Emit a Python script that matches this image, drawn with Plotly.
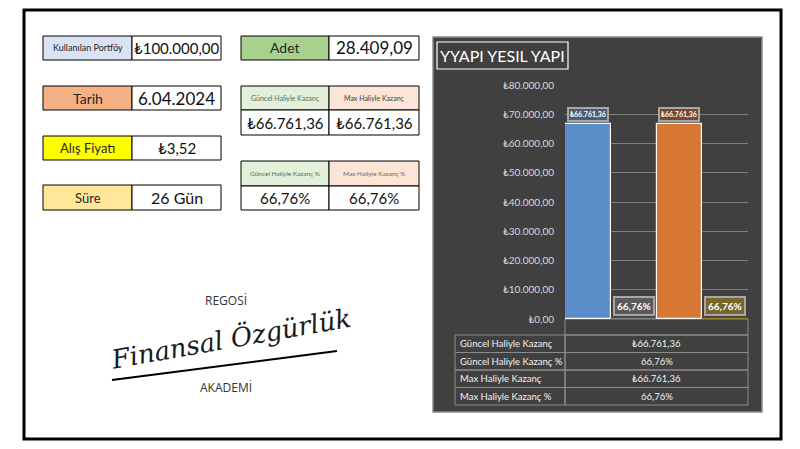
import plotly.graph_objects as go

# ----------------------------------------------------------
# Data
# ----------------------------------------------------------

info_labels = ["Kullanılan Portföy", "Tarih", "Alış Fiyatı", "Süre"]
portfolio = 100000.00
trade_date = "6.04.2024"
buy_price = 3.52
days = 26
lot_count = 28409.09

series_names = [
    "Güncel Haliyle Kazanç",
    "Güncel Haliyle Kazanç %",
    "Max Haliyle Kazanç",
    "Max Haliyle Kazanç %",
]
series_values = [66761.36, 0.6676, 66761.36, 0.6676]
series_is_pct = [False, True, False, True]

chart_title = "YYAPI YESIL YAPI"
y_ticks = [0, 10000, 20000, 30000, 40000, 50000, 60000, 70000, 80000]


def tr_num(v, dec=2):
    s = f"{v:,.{dec}f}"
    return s.replace(",", "#").replace(".", ",").replace("#", ".")


def fmt(v, pct):
    return tr_num(v * 100) + "%" if pct else "₺" + tr_num(v)


W, H = 800, 449
OFF = 8  # page body margin of the html page


def px(x):
    return (x - OFF) / W


def py(y):
    return 1 - (y - OFF) / H


FONT = "Lato, Liberation Sans, sans-serif"

shapes = []
annotations = []


def text(x, y, s, size, color="#262626", family=FONT, xanchor="center", **kw):
    annotations.append(dict(xref="paper", yref="paper", x=px(x), y=py(y),
                            xanchor=xanchor, yanchor="middle",
                            text=s, showarrow=False,
                            font=dict(family=family, size=size, color=color), **kw))


def rect(x0, y0, x1, y1, fill=None, line="black", width=1, layer="below"):
    shapes.append(dict(type="rect", xref="paper", yref="paper",
                       x0=px(x0), x1=px(x1), y0=py(y1), y1=py(y0),
                       fillcolor=fill, line=dict(color=line, width=width),
                       layer=layer))


def cell(x0, y0, x1, y1, fill, s, size, color="#262626"):
    rect(x0, y0, x1, y1, fill)
    text((x0 + x1) / 2, (y0 + y1) / 2, s, size, color)


# outer frame
rect(24, 10, 781, 439, width=3)

# left info cells
left_fills = ["#DAE3F3", "#F4B183", "#FFFF00", "#FFE699"]
left_sizes = [9, 14, 13, 13]
left_values = [fmt(portfolio, False), trade_date, fmt(buy_price, False), f"{days} Gün"]
val_sizes = [15, 17, 15, 16]
rows_y = [(36, 60), (86, 110), (136, 160), (185, 210)]
for lab, fill, ls, val, vs, (y0, y1) in zip(info_labels, left_fills, left_sizes,
                                             left_values, val_sizes, rows_y):
    cell(43, y0, 132, y1, fill, lab, ls)
    cell(132, y0, 221, y1, "white", val, vs, "#111111")

# Adet
cell(241, 36, 329, 60, "#A9D18E", "Adet", 14)
cell(329, 36, 419, 60, "white", tr_num(lot_count), 17, "#111111")

# gain blocks
cell(241, 86, 329, 110, "#E2F0D9", series_names[0], 7, "#4f6f5f")
cell(329, 86, 419, 110, "#FBE5D6", series_names[2], 7, "#404040")
cell(241, 110, 329, 135, "white", fmt(series_values[0], False), 15, "#111111")
cell(329, 110, 419, 135, "white", fmt(series_values[2], False), 15, "#111111")

cell(241, 161, 329, 186, "#E2F0D9", series_names[1], 6.5, "#4f6f5f")
cell(329, 161, 419, 186, "#FBE5D6", series_names[3], 6.5, "#7f5f5f")
cell(241, 186, 329, 210, "white", fmt(series_values[1], True), 15, "#111111")
cell(329, 186, 419, 210, "white", fmt(series_values[3], True), 15, "#111111")

# logo
text(226, 300, "REGOSİ", 12, "#333333", "Open Sans, sans-serif")
text(226, 387, "AKADEMİ", 12, "#333333", "Open Sans, sans-serif")
text(230, 338, "<i>Finansal Özgürlük</i>", 26, "#1a1a1a", "DejaVu Serif, serif",
     textangle=-10)
shapes.append(dict(type="line", xref="paper", yref="paper",
                   x0=px(112), y0=py(380), x1=px(337), y1=py(351),
                   line=dict(color="black", width=2)))

# chart panel
rect(433, 37, 762, 412, fill="#404040", line="#8c8c8c", width=1.5)
rect(437, 42, 568, 69, line="white", width=1.2, layer="above")
text(502.5, 56, chart_title, 16, "white")

# data table under the plot area
TX0, TX1, TX2 = 455, 565, 748
row_top = [335, 352.5, 370, 387.5]
ROW_H = 17.5
rect(TX1, 319, TX2, 335, line="#8c8c8c", width=1)
for name, val, pct, y0 in zip(series_names, series_values, series_is_pct, row_top):
    rect(TX0, y0, TX1, y0 + ROW_H, line="#8c8c8c", width=1)
    rect(TX1, y0, TX2, y0 + ROW_H, line="#8c8c8c", width=1)
    text(TX0 + 3, y0 + ROW_H / 2, name, 9.5, "#f2f2f2", xanchor="left")
    text((TX1 + TX2) / 2, y0 + ROW_H / 2, fmt(val, pct), 9.5, "#f2f2f2")

# ----------------------------------------------------------
# Chart
# ----------------------------------------------------------

bar_colors = ["#5A8EC8", "#A5A5A5", "#D87634", "#C9A227"]
line_colors = ["white", "#7f7f7f", "white", "#9c7d1e"]
label_bg = ["#4C5D6F", "#5A5A5A", "#774830", "#7A6628"]

fig = go.Figure()

fig.add_trace(go.Bar(
    x=series_names,
    y=series_values,
    marker=dict(color=bar_colors, line=dict(color=line_colors, width=1.2)),
    showlegend=False,
    hoverinfo="skip",
))

for name, val, pct, bg in zip(series_names, series_values, series_is_pct, label_bg):
    annotations.append(dict(
        x=name, y=val, xref="x", yref="y",
        xanchor="center", yanchor="bottom",
        yshift=3 if pct else 2, showarrow=False,
        text="<b>" + fmt(val, pct) + "</b>",
        bgcolor=bg, bordercolor="#a6a6a6", borderwidth=2,
        borderpad=2 if pct else 1,
        font=dict(family=FONT, size=10 if pct else 7, color="white"),
    ))

fig.update_layout(
    width=W, height=H,
    margin=dict(l=0, r=0, t=0, b=0, autoexpand=False),
    paper_bgcolor="white",
    plot_bgcolor="rgba(0,0,0,0)",
    bargap=0,
    shapes=shapes,
    annotations=annotations,
    xaxis=dict(domain=[px(565), px(748)], showticklabels=False,
               showgrid=False, zeroline=False, fixedrange=True),
    yaxis=dict(domain=[py(319), py(85)], range=[0, 80000],
               tickvals=y_ticks, ticktext=[fmt(v, False) for v in y_ticks],
               gridcolor="#808080", gridwidth=1, zeroline=False,
               ticklabelstandoff=10, automargin=False,
               tickfont=dict(family=FONT, size=10, color="#d9d9d9"),
               fixedrange=True),
    font=dict(family=FONT),
)

fig.write_html("out.html")
